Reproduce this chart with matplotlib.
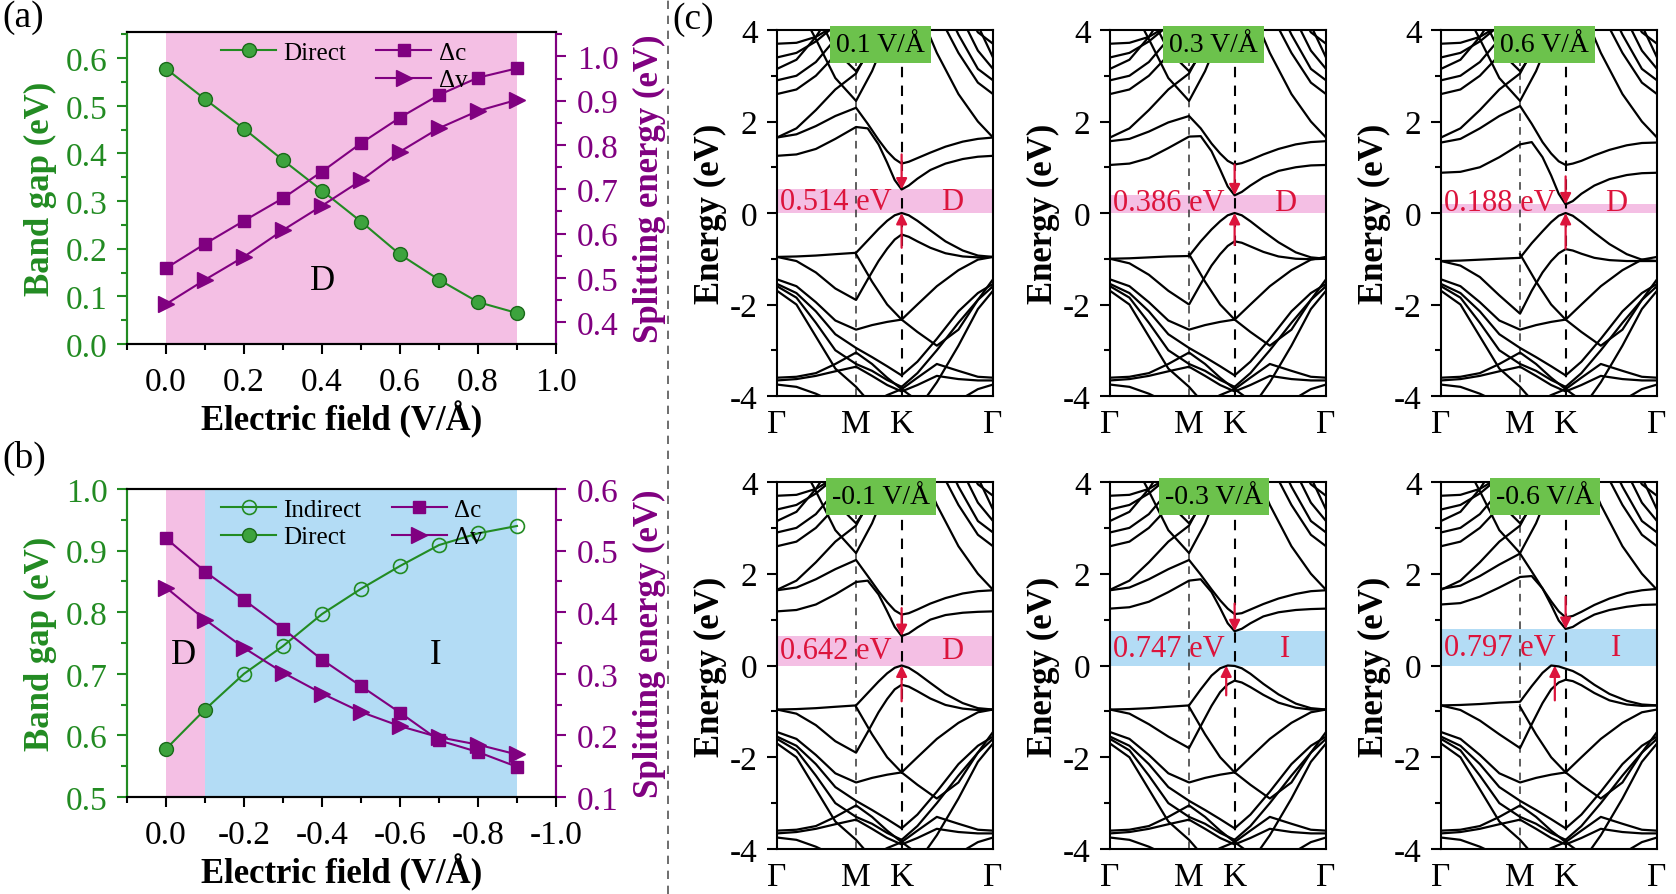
import matplotlib
matplotlib.use('Agg')
from matplotlib import pyplot as plt
from matplotlib.lines import Line2D
from matplotlib.ticker import MultipleLocator, FormatStrFormatter
import numpy as np

plt.rcParams['font.family'] = ['Liberation Serif', 'DejaVu Serif']
plt.rcParams['axes.unicode_minus'] = False
plt.rcParams['axes.linewidth'] = 1.5

W, H = 1676, 895
GREEN = '#228b22'
PURPLE = '#800080'
PINK = '#f4bfe4'
BLUE = '#b3dcf5'
RED = '#dc143c'
BOXGREEN = '#6cc24c'

# ---------------- panel (a): positive field ----------------
field_a = [0.0, 0.1, 0.2, 0.3, 0.4, 0.5, 0.6, 0.7, 0.8, 0.9]
direct_a = [0.578, 0.514, 0.452, 0.386, 0.322, 0.257, 0.188, 0.135, 0.088, 0.065]
dc_a = [0.522, 0.577, 0.629, 0.680, 0.740, 0.804, 0.862, 0.913, 0.952, 0.973]
dv_a = [0.441, 0.496, 0.548, 0.608, 0.663, 0.720, 0.785, 0.838, 0.877, 0.902]

# ---------------- panel (b): negative field ----------------
field_b = [0.0, -0.1, -0.2, -0.3, -0.4, -0.5, -0.6, -0.7, -0.8, -0.9]
direct_b_x = [0.0, -0.1]
direct_b = [0.578, 0.642]
indirect_b_x = [-0.1, -0.2, -0.3, -0.4, -0.5, -0.6, -0.7, -0.8, -0.9]
indirect_b = [0.642, 0.700, 0.745, 0.797, 0.838, 0.875, 0.909, 0.928, 0.940]
dc_b = [0.520, 0.466, 0.420, 0.373, 0.323, 0.280, 0.237, 0.192, 0.173, 0.149]
dv_b = [0.440, 0.388, 0.342, 0.302, 0.268, 0.238, 0.215, 0.197, 0.185, 0.169]

# ---------------- panel (c): band structures ----------------
k_M, k_K = 0.366, 0.577
k_ticks = [0.0, k_M, k_K, 1.0]
k_labels = ['Γ', 'M', 'K', 'Γ']

# coarse k grid for the bands far from the gap (shared by all six plots)
k_coarse = [0, 0.09, 0.18, 0.27, 0.366, 0.44, 0.51, 0.577, 0.65, 0.74, 0.84, 0.93, 1.0]
up1 = [1.65, 1.85, 2.25, 2.70, 3.05, 3.70, 4.40, 5.00, 4.50, 3.50, 2.60, 2.00, 1.65]
up2 = [2.60, 2.70, 3.00, 3.45, 3.95, 4.60, 5.00, 5.00, 5.00, 4.40, 3.50, 2.85, 2.60]
up3 = [2.90, 3.00, 3.30, 3.80, 4.50, 5.00, 5.00, 5.00, 5.00, 4.90, 3.90, 3.15, 2.90]
up4 = [3.15, 3.35, 3.85, 4.50, 5.00, 5.00, 5.00, 5.00, 5.00, 5.00, 4.40, 3.55, 3.15]
up5 = [5.00, 4.60, 3.80, 2.95, 2.45, 3.10, 3.90, 4.60, 5.00, 5.00, 5.00, 5.00, 5.00]
up6 = [3.70, 3.72, 3.85, 4.10, 4.50, 5.00, 5.00, 5.00, 5.00, 5.00, 4.70, 3.95, 3.70]
up7 = [3.40, 3.50, 3.75, 4.10, 4.60, 5.00, 5.00, 5.00, 5.00, 5.00, 4.90, 4.10, 3.40]
up8 = [5.00, 5.00, 4.40, 3.55, 3.10, 3.60, 4.30, 5.00, 5.00, 5.00, 5.00, 5.00, 5.00]
lo1 = [np.nan, np.nan, np.nan, np.nan, -0.90, -1.50, -2.00, -2.33, -2.00, -1.60, -1.25, -1.02, -0.96]
lo2 = [-1.45, -1.60, -1.95, -2.35, -2.55, -2.45, -2.38, -2.33, -2.60, -2.90, -2.55, -1.90, -1.45]
lo3 = [-1.60, -1.85, -2.40, -3.00, -3.30, -3.45, -3.65, -3.80, -3.50, -3.00, -2.40, -1.90, -1.60]
lo4 = [-1.70, -2.00, -2.70, -3.40, -3.80, -4.20, -4.50, -4.60, -4.30, -3.70, -2.90, -2.10, -1.70]
lo5 = [-3.60, -3.58, -3.50, -3.30, -3.05, -3.30, -3.60, -3.85, -3.60, -3.30, -3.45, -3.58, -3.60]
lo6 = [-3.75, -3.80, -3.95, -4.15, -4.35, -4.15, -3.98, -3.85, -4.10, -4.35, -4.10, -3.85, -3.75]
lo7 = [-1.55, -1.75, -2.15, -2.65, -2.95, -3.15, -3.35, -3.55, -3.25, -2.75, -2.15, -1.75, -1.55]
lo8 = [-3.66, -3.63, -3.56, -3.46, -3.36, -3.56, -3.76, -3.90, -3.76, -3.56, -3.63, -3.66, -3.66]
deep_bands = [up1, up2, up3, up4, up5, up6, up7, up8, lo1, lo2, lo3, lo4, lo5, lo6, lo7, lo8]

# fine k grid for the four bands around the gap
k_fine = [0, 0.09, 0.18, 0.27, 0.366, 0.42, 0.47, 0.51, 0.545, 0.577, 0.61, 0.65, 0.71, 0.78, 0.86, 0.93, 1.0]

cb1_p01 = [1.25, 1.28, 1.40, 1.62, 1.88, 1.85, 1.50, 1.10, 0.72, 0.514, 0.60, 0.75, 0.94, 1.08, 1.18, 1.23, 1.25]
cb2_p01 = [1.65, 1.72, 1.90, 2.12, 2.30, 1.95, 1.60, 1.35, 1.18, 1.08, 1.12, 1.20, 1.32, 1.45, 1.56, 1.62, 1.65]
vb1_p01 = [-0.96, -0.95, -0.93, -0.90, -0.87, -0.60, -0.35, -0.17, -0.05, 0.0, -0.05, -0.17, -0.38, -0.62, -0.82, -0.93, -0.96]
vb2_p01 = [-0.96, -1.05, -1.30, -1.65, -1.90, -1.45, -1.05, -0.78, -0.58, -0.47, -0.52, -0.62, -0.76, -0.88, -0.95, -0.97, -0.96]

cb1_p03 = [1.05, 1.08, 1.20, 1.42, 1.67, 1.68, 1.35, 0.95, 0.58, 0.386, 0.46, 0.60, 0.78, 0.92, 1.00, 1.04, 1.05]
cb2_p03 = [1.57, 1.62, 1.78, 1.98, 2.12, 1.85, 1.52, 1.30, 1.14, 1.06, 1.09, 1.16, 1.28, 1.40, 1.50, 1.55, 1.57]
vb1_p03 = [-1.00, -0.99, -0.97, -0.95, -0.94, -0.62, -0.36, -0.18, -0.05, 0.0, -0.05, -0.18, -0.40, -0.64, -0.86, -0.97, -1.00]
vb2_p03 = [-1.00, -1.10, -1.35, -1.70, -2.00, -1.55, -1.15, -0.90, -0.72, -0.62, -0.65, -0.73, -0.85, -0.95, -1.00, -1.01, -1.00]

cb1_p06 = [0.88, 0.90, 1.00, 1.22, 1.50, 1.55, 1.22, 0.82, 0.42, 0.188, 0.26, 0.42, 0.60, 0.74, 0.83, 0.87, 0.88]
cb2_p06 = [1.54, 1.62, 1.85, 2.12, 2.34, 1.95, 1.55, 1.30, 1.13, 1.05, 1.08, 1.14, 1.26, 1.38, 1.48, 1.53, 1.54]
vb1_p06 = [-1.05, -1.04, -1.02, -1.00, -0.98, -0.66, -0.40, -0.20, -0.06, 0.0, -0.06, -0.20, -0.43, -0.68, -0.90, -1.02, -1.05]
vb2_p06 = [-1.05, -1.15, -1.40, -1.80, -2.20, -1.70, -1.30, -1.05, -0.88, -0.79, -0.82, -0.89, -0.98, -1.03, -1.05, -1.05, -1.05]

cb1_m01 = [1.18, 1.21, 1.33, 1.55, 1.82, 1.85, 1.55, 1.18, 0.84, 0.642, 0.70, 0.83, 1.00, 1.10, 1.15, 1.17, 1.18]
cb2_m01 = [1.64, 1.70, 1.88, 2.10, 2.30, 1.95, 1.62, 1.38, 1.20, 1.11, 1.14, 1.22, 1.35, 1.47, 1.57, 1.62, 1.64]
vb1_m01 = [-0.96, -0.95, -0.93, -0.90, -0.87, -0.60, -0.35, -0.17, -0.05, 0.0, -0.05, -0.17, -0.38, -0.62, -0.82, -0.93, -0.96]
vb2_m01 = [-0.96, -1.05, -1.30, -1.65, -1.90, -1.45, -1.02, -0.73, -0.52, -0.42, -0.46, -0.56, -0.72, -0.86, -0.94, -0.97, -0.96]

cb1_m03 = [1.24, 1.27, 1.39, 1.60, 1.85, 1.88, 1.60, 1.25, 0.92, 0.747, 0.80, 0.92, 1.07, 1.16, 1.21, 1.23, 1.24]
cb2_m03 = [1.64, 1.70, 1.88, 2.10, 2.30, 1.98, 1.66, 1.42, 1.24, 1.12, 1.14, 1.22, 1.34, 1.46, 1.56, 1.62, 1.64]
vb1_m03 = [-0.96, -0.95, -0.93, -0.90, -0.87, -0.52, -0.22, -0.06, 0.0, -0.01, -0.06, -0.18, -0.40, -0.63, -0.83, -0.93, -0.96]
vb2_m03 = [-0.96, -1.05, -1.28, -1.55, -1.80, -1.32, -0.88, -0.58, -0.41, -0.33, -0.37, -0.47, -0.64, -0.81, -0.92, -0.96, -0.96]

cb1_m06 = [1.33, 1.36, 1.50, 1.70, 1.93, 1.95, 1.68, 1.32, 0.98, 0.797, 0.84, 0.96, 1.11, 1.21, 1.28, 1.32, 1.33]
cb2_m06 = [1.67, 1.74, 1.95, 2.20, 2.44, 2.05, 1.68, 1.40, 1.18, 1.05, 1.08, 1.17, 1.32, 1.46, 1.58, 1.64, 1.67]
vb1_m06 = [-0.87, -0.86, -0.84, -0.81, -0.79, -0.45, -0.16, 0.0, -0.02, -0.07, -0.12, -0.22, -0.42, -0.62, -0.77, -0.85, -0.87]
vb2_m06 = [-0.87, -0.97, -1.20, -1.50, -1.80, -1.28, -0.82, -0.52, -0.37, -0.31, -0.34, -0.43, -0.60, -0.76, -0.85, -0.88, -0.87]

field_labels = ['0.1 V/Å', '0.3 V/Å', '0.6 V/Å', '-0.1 V/Å', '-0.3 V/Å', '-0.6 V/Å']
gap_values = [0.514, 0.386, 0.188, 0.642, 0.747, 0.797]
gap_kind = ['D', 'D', 'D', 'D', 'I', 'I']
vbm_k = [0.577, 0.577, 0.577, 0.577, 0.538, 0.527]
arrow_down_tail = [1.28, 1.06, 0.80, 1.25, 1.35, 1.50]
arrow_up_tail = [-0.76, -0.70, -0.78, -0.78, -0.65, -0.76]
near_gap = [
    [cb1_p01, cb2_p01, vb1_p01, vb2_p01],
    [cb1_p03, cb2_p03, vb1_p03, vb2_p03],
    [cb1_p06, cb2_p06, vb1_p06, vb2_p06],
    [cb1_m01, cb2_m01, vb1_m01, vb2_m01],
    [cb1_m03, cb2_m03, vb1_m03, vb2_m03],
    [cb1_m06, cb2_m06, vb1_m06, vb2_m06],
]


def px_rect(left, top, right, bottom):
    return [left / W, 1 - bottom / H, (right - left) / W, (bottom - top) / H]


def style_twin(ax, ax2):
    for a in (ax, ax2):
        a.spines['left'].set_color(GREEN)
        a.spines['right'].set_color(PURPLE)
    ax.tick_params(axis='y', which='both', colors=GREEN, direction='out', labelsize=24, width=1.5, pad=7)
    ax.tick_params(axis='y', which='major', length=7)
    ax.tick_params(axis='y', which='minor', length=4)
    ax2.tick_params(axis='y', which='both', colors=PURPLE, direction='out', labelsize=24, width=1.5, pad=8)
    ax2.tick_params(axis='y', which='major', length=7)
    ax2.tick_params(axis='y', which='minor', length=4)
    ax.tick_params(axis='x', which='both', direction='out', labelsize=24, width=1.5, top=False, pad=9)
    ax.tick_params(axis='x', which='major', length=7)
    ax.tick_params(axis='x', which='minor', length=4)
    ax.set_xlabel('Electric field (V/Å)', fontsize=25, fontweight='bold', labelpad=2)
    ax.set_ylabel('Band gap (eV)', fontsize=25, fontweight='bold', color=GREEN, labelpad=6)
    ax2.set_ylabel('Splitting energy (eV)', fontsize=25, fontweight='bold', color=PURPLE, labelpad=10)


fig = plt.figure(figsize=(W / 100, H / 100), dpi=100)

# ---- (a) ----
ax = fig.add_axes(px_rect(127, 33, 556, 345))
ax2 = ax.twinx()
ax.axvspan(0.0, 0.9, color=PINK, zorder=0, lw=0)
h_dir, = ax.plot(field_a, direct_a, '-o', color=GREEN, lw=1.5, ms=10,
                 mfc='#3da33d', mec='#1a6a1a', mew=1.0, label='Direct')
h_dc, = ax2.plot(field_a, dc_a, '-s', color=PURPLE, lw=1.5, ms=9, label='Δc')
h_dv, = ax2.plot(field_a, dv_a, '->', color=PURPLE, lw=1.5, ms=11, label='Δv')
ax.set_xlim(-0.1, 1.0)
ax.set_ylim(0.0, 0.655)
ax2.set_ylim(0.351, 1.055)
ax.xaxis.set_major_locator(MultipleLocator(0.2))
ax.xaxis.set_minor_locator(MultipleLocator(0.1))
ax.xaxis.set_major_formatter(FormatStrFormatter('%.1f'))
ax.yaxis.set_major_locator(MultipleLocator(0.1))
ax.yaxis.set_minor_locator(MultipleLocator(0.05))
ax.yaxis.set_major_formatter(FormatStrFormatter('%.1f'))
ax2.yaxis.set_major_locator(MultipleLocator(0.1))
ax2.yaxis.set_minor_locator(MultipleLocator(0.05))
ax2.yaxis.set_major_formatter(FormatStrFormatter('%.1f'))
style_twin(ax, ax2)
ax.text(0.4, 0.133, 'D', fontsize=25, ha='center', va='center')
blank = Line2D([], [], linestyle='none', marker='none')
ax2.legend([h_dir, blank, h_dc, h_dv], ['Direct', '', 'Δc', 'Δv'], ncol=2,
           loc='upper left', bbox_to_anchor=(0.19, 1.01), frameon=False, fontsize=18,
           handlelength=2.2, handletextpad=0.3, columnspacing=1.2, labelspacing=0.2,
           borderaxespad=0.1)
fig.text(2 / W, 1 - 18 / H, '(a)', fontsize=27, va='center', ha='left')

# ---- (b) ----
bx = fig.add_axes(px_rect(127, 490, 556, 798))
bx2 = bx.twinx()
bx.axvspan(0.0, -0.1, color=PINK, zorder=0, lw=0)
bx.axvspan(-0.1, -0.9, color=BLUE, zorder=0, lw=0)
h_ind, = bx.plot(indirect_b_x, indirect_b, '-o', color=GREEN, lw=1.5, ms=10,
                 mfc='none', mec=GREEN, mew=1.2, markevery=list(range(1, len(indirect_b))),
                 label='Indirect')
h_dir_b, = bx.plot(direct_b_x, direct_b, '-o', color=GREEN, lw=1.5, ms=10,
                   mfc='#3da33d', mec='#1a6a1a', mew=1.0, label='Direct')
h_dc_b, = bx2.plot(field_b, dc_b, '-s', color=PURPLE, lw=1.5, ms=9, label='Δc')
h_dv_b, = bx2.plot(field_b, dv_b, '->', color=PURPLE, lw=1.5, ms=11, label='Δv')
bx.set_xlim(0.1, -1.0)
bx.set_ylim(0.5, 1.0)
bx2.set_ylim(0.1, 0.6)
bx.xaxis.set_major_locator(MultipleLocator(0.2))
bx.xaxis.set_minor_locator(MultipleLocator(0.1))
bx.xaxis.set_major_formatter(FormatStrFormatter('%.1f'))
bx.yaxis.set_major_locator(MultipleLocator(0.1))
bx.yaxis.set_minor_locator(MultipleLocator(0.05))
bx.yaxis.set_major_formatter(FormatStrFormatter('%.1f'))
bx2.yaxis.set_major_locator(MultipleLocator(0.1))
bx2.yaxis.set_minor_locator(MultipleLocator(0.05))
bx2.yaxis.set_major_formatter(FormatStrFormatter('%.1f'))
style_twin(bx, bx2)
bx.set_xticks([0.0, -0.2, -0.4, -0.6, -0.8, -1.0])
bx.set_xticklabels(['0.0', '-0.2', '-0.4', '-0.6', '-0.8', '-1.0'])
bx.text(-0.045, 0.732, 'D', fontsize=25, ha='center', va='center')
bx.text(-0.69, 0.732, 'I', fontsize=25, ha='center', va='center')
bx2.legend([h_ind, h_dir_b, h_dc_b, h_dv_b], ['Indirect', 'Direct', 'Δc', 'Δv'], ncol=2,
           loc='upper left', bbox_to_anchor=(0.19, 1.01), frameon=False, fontsize=18,
           handlelength=2.2, handletextpad=0.3, columnspacing=1.2, labelspacing=0.2,
           borderaxespad=0.1)
fig.text(2 / W, 1 - 458 / H, '(b)', fontsize=27, va='center', ha='left')

# separator between (a,b) and (c)
fig.add_artist(Line2D([668 / W, 668 / W], [0.0, 1.0], transform=fig.transFigure,
                      color='#555555', lw=1.2, ls=(0, (5, 4))))
fig.text(672 / W, 1 - 20 / H, '(c)', fontsize=27, va='center', ha='left')

# ---- (c) band structures ----
lefts = [777, 1110, 1441]
rows = [(31, 397), (483, 850)]
for i in range(6):
    r, c = divmod(i, 3)
    top, bottom = rows[r]
    cx = fig.add_axes(px_rect(lefts[c], top, lefts[c] + 216, bottom))
    gap = gap_values[i]
    cx.axhspan(0.0, gap, color=PINK if gap_kind[i] == 'D' else BLUE, lw=0, zorder=0)
    cx.axvline(k_M, color='#333333', lw=1.1, ls=(0, (5, 4)), zorder=1)
    cx.axvline(k_K, color='black', lw=1.5, ls=(0, (5, 4)), zorder=1)
    for band in deep_bands:
        cx.plot(k_coarse, band, color='black', lw=1.6, zorder=2)
    for band in near_gap[i]:
        cx.plot(k_fine, band, color='black', lw=1.6, zorder=2)
    cx.annotate('', xy=(k_K, gap), xytext=(k_K, arrow_down_tail[i]),
                arrowprops=dict(arrowstyle='-|>', color=RED, lw=1.6, mutation_scale=16,
                                shrinkA=0, shrinkB=0), zorder=4)
    cx.annotate('', xy=(vbm_k[i], 0.0), xytext=(vbm_k[i], arrow_up_tail[i]),
                arrowprops=dict(arrowstyle='-|>', color=RED, lw=1.6, mutation_scale=16,
                                shrinkA=0, shrinkB=0), zorder=4)
    ty = max(gap / 2, 0.24)
    cx.text(0.012, ty, '%.3f eV' % gap, color=RED, fontsize=22, ha='left', va='center', zorder=5)
    cx.text(0.81, ty, gap_kind[i], color=RED, fontsize=22, ha='center', va='center', zorder=5)
    cx.text(0.48, 3.96, field_labels[i], fontsize=20, ha='center', va='top', zorder=6,
            bbox=dict(boxstyle='square,pad=0.22', fc=BOXGREEN, ec='none'))
    cx.set_xlim(0, 1)
    cx.set_ylim(-4, 4)
    cx.set_xticks(k_ticks)
    cx.set_xticklabels(k_labels)
    cx.set_yticks([-4, -2, 0, 2, 4])
    cx.yaxis.set_minor_locator(MultipleLocator(1))
    cx.tick_params(axis='x', length=0, labelsize=24, pad=9)
    cx.tick_params(axis='y', which='major', direction='out', length=7, width=1.5, labelsize=24, pad=7)
    cx.tick_params(axis='y', which='minor', direction='out', length=4, width=1.5)
    cx.set_ylabel('Energy (eV)', fontsize=25, fontweight='bold', labelpad=2)

fig.savefig('out.png', dpi=100)
